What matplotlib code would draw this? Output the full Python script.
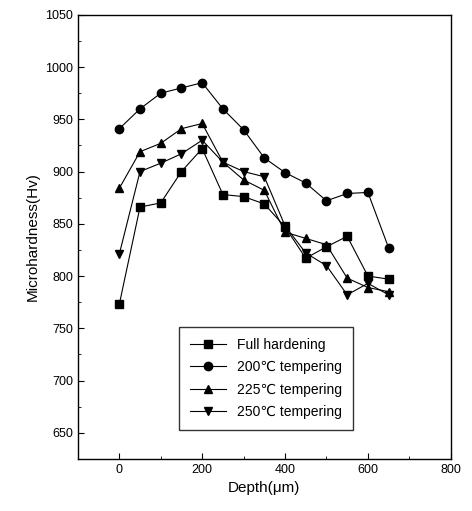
import matplotlib
matplotlib.use("Agg")
import matplotlib.pyplot as plt
from matplotlib.ticker import MultipleLocator

plt.rcParams["font.family"] = ["Liberation Sans", "DejaVu Sans"]

depth = [0, 50, 100, 150, 200, 250, 300, 350, 400, 450, 500, 550, 600, 650]

full_hardening = [773, 866, 870, 900, 922, 878, 876, 869, 847, 817, 828, 838, 800, 797]
temp_200 = [941, 960, 975, 980, 985, 960, 940, 913, 899, 889, 872, 879, 880, 827]
temp_225 = [884, 919, 927, 941, 946, 909, 892, 882, 842, 836, 830, 798, 789, 785]
temp_250 = [821, 900, 908, 917, 930, 909, 900, 895, 848, 822, 810, 782, 793, 782]

labels = ["Full hardening", "200\u2103 tempering", "225\u2103 tempering", "250\u2103 tempering"]
series = [full_hardening, temp_200, temp_225, temp_250]
markers = ["s", "o", "^", "v"]

fig = plt.figure(figsize=(4.72, 5.11), dpi=100)
ax = fig.add_axes([0.165, 0.102, 0.79, 0.869])

for vals, m, lab in zip(series, markers, labels):
    ax.plot(depth, vals, color="black", lw=0.8, marker=m, markersize=6,
            markerfacecolor="black", markeredgecolor="black", label=lab)

ax.set_xlim(-100, 800)
ax.set_ylim(625, 1050)
ax.xaxis.set_major_locator(MultipleLocator(200))
ax.xaxis.set_minor_locator(MultipleLocator(100))
ax.yaxis.set_major_locator(MultipleLocator(50))
ax.yaxis.set_minor_locator(MultipleLocator(25))
ax.set_yticks(range(650, 1051, 50))
ax.tick_params(which="both", direction="in", top=False, right=False, labelsize=9)
ax.tick_params(which="major", length=4)
ax.tick_params(which="minor", length=2)
for s in ax.spines.values():
    s.set_linewidth(1.0)

ax.set_xlabel("Depth(\u03bcm)", fontsize=11)
ax.set_ylabel("Microhardness(Hv)", fontsize=11)

leg = ax.legend(loc="lower left", bbox_to_anchor=(0.27, 0.065), fontsize=10,
                frameon=True, fancybox=False, edgecolor="black", handlelength=2.6,
                borderpad=0.8, labelspacing=0.6, borderaxespad=0)
leg.get_frame().set_linewidth(1.0)

fig.savefig("out.png", dpi=100)
